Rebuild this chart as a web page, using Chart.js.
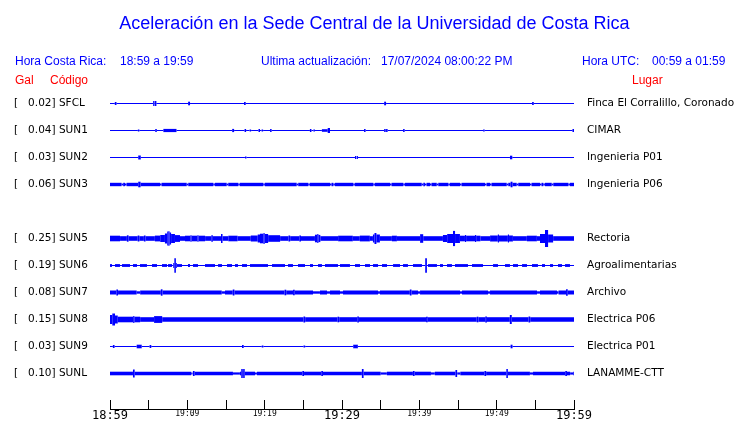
<!DOCTYPE html>
<html>
<head>
<meta charset="utf-8">
<script src="https://cdn.jsdelivr.net/npm/chart.js@4.4.1/dist/chart.umd.min.js"></script>
<style>
  body { margin: 0; background: #fff; }
  #wrap { position: relative; width: 740px; height: 423px; }
  .t { position: absolute; white-space: pre; font-family: 'Liberation Sans', Arial, sans-serif; line-height: 1; }
  .blue { color: #0000ff; font-size: 12px; }
  .red { color: #ff0000; font-size: 12px; }
</style>
</head>
<body>
<div id="wrap">
  <canvas id="sismo"></canvas>
  <div class="t" style="left:0;width:749px;text-align:center;top:14px;font-size:18px;color:#0000ff">Aceleración en la Sede Central de la Universidad de Costa Rica</div>
  <div class="t blue" style="left:15px;top:55px">Hora Costa Rica:</div>
  <div class="t blue" style="left:120px;top:55px">18:59 a 19:59</div>
  <div class="t blue" style="left:261px;top:55px">Ultima actualización:</div>
  <div class="t blue" style="left:381px;top:55px">17/07/2024 08:00:22 PM</div>
  <div class="t blue" style="left:582px;top:55px">Hora UTC:</div>
  <div class="t blue" style="left:652px;top:55px">00:59 a 01:59</div>
  <div class="t red" style="left:15px;top:74px">Gal</div>
  <div class="t red" style="left:50px;top:74px">Código</div>
  <div class="t red" style="left:632px;top:74px">Lugar</div>
</div>
<script>
// time axis (minutes after 18:59)
const tickMinutes = [0, 5, 10, 15, 20, 25, 30, 35, 40, 45, 50, 55, 60];
const labelMinutes = [0, 10, 20, 30, 40, 50, 60];
const timeLabels = ['18:59', '19:09', '19:19', '19:29', '19:39', '19:49', '19:59'];
const bigLabels = ['18:59', '19:29', '19:59'];

// stations
const codes = ['SFCL', 'SUN1', 'SUN2', 'SUN3', 'SUN5', 'SUN6', 'SUN7', 'SUN8', 'SUN9', 'SUNL'];
const places = ['Finca El Corralillo, Coronado', 'CIMAR', 'Ingenieria P01', 'Ingenieria P06', 'Rectoria',
  'Agroalimentarias', 'Archivo', 'Electrica P06', 'Electrica P01', 'LANAMME-CTT'];
const galPeak = [0.02, 0.04, 0.03, 0.06, 0.25, 0.19, 0.08, 0.15, 0.03, 0.10];
const rows = [0, 1, 2, 3, 5, 6, 7, 8, 9, 10];
const noiseLevel = [0.5, 0.5, 0.5, 1.7, 2.3, 0.5, 2, 2.3, 0.5, 1.8];

// envelope events per station: [start min, end min, half amplitude]
const sfclEvents = [[0.62, 0.84, 1.5], [5.58, 5.76, 2.5], [5.82, 6.0, 2.5], [10.1, 10.35, 1.8],
  [17.33, 17.55, 1.5], [35.45, 35.7, 1.8], [54.58, 54.8, 1.5]];
const sun1Events = [[3.6, 3.8, 1], [5.85, 6.05, 1.5], [6.9, 8.6, 1.6], [15.8, 16.05, 1.6], [17.4, 17.6, 1.5],
  [18.05, 18.25, 1], [19.2, 19.4, 1.5], [19.6, 19.8, 1], [20.7, 20.9, 1.5], [25.85, 26.05, 1.5],
  [26.3, 26.5, 1], [27.4, 28.15, 1.3], [28.15, 28.45, 2.5], [32.85, 33.05, 1.5], [35.45, 35.65, 1.5],
  [35.7, 35.9, 1.5], [37.9, 38.1, 1.5], [48.25, 48.45, 1], [59.8, 60, 1.5]];
const sun2Events = [[3.65, 3.98, 2], [17.45, 17.65, 1], [31.68, 31.84, 1.5], [31.9, 32.06, 1.5], [51.72, 52.02, 1.8]];
const sun3Events = [[1.5, 1.7, 0.9], [1.94, 2.14, 0.9], [3.65, 3.95, 2.8], [6.47, 6.67, 0.9], [9.92, 10.12, 0.9],
  [13.36, 13.56, 0.9], [15.09, 15.29, 0.9], [16.59, 16.79, 0.9], [19.82, 20.02, 0.9], [24.14, 24.34, 0.9],
  [25.64, 25.84, 0.9], [28.45, 28.65, 0.9], [28.88, 29.08, 0.9], [31.46, 31.66, 0.9], [34.05, 34.25, 0.9],
  [36.21, 36.41, 0.9], [37.93, 38.13, 0.9], [40.31, 40.51, 0.9], [40.73, 40.93, 0.9], [41.38, 41.58, 0.9],
  [42.25, 42.45, 0.9], [43.75, 43.95, 0.9], [45.26, 45.46, 0.9], [48.49, 48.69, 0.9], [49.14, 49.34, 0.9],
  [51.3, 51.5, 0.9], [51.8, 52.05, 2.8], [52.59, 52.79, 0.9], [54.31, 54.51, 0.9], [55.6, 55.8, 0.9],
  [56.03, 56.23, 0.9], [57.12, 57.32, 0.9], [59.27, 59.47, 0.9]];
const sun5Events = [[0, 1.3, 2.8], [2.18, 2.4, 3.2], [3.58, 3.8, 3], [4.38, 4.6, 3], [5.8, 6.5, 2.9],
  [6.5, 7.1, 3.5], [7.1, 7.4, 5], [7.4, 7.55, 7], [7.55, 7.7, 7.3], [7.7, 7.9, 6], [7.9, 8.4, 4.5],
  [8.4, 9.05, 3.4], [9.7, 10.4, 2.8], [10.4, 10.55, 3.3], [10.55, 11.3, 2.8], [11.3, 11.45, 3.3],
  [11.45, 12.3, 2.8], [13.1, 13.3, 3.2], [14.35, 14.55, 4.5], [15.3, 16.5, 2.8], [18.2, 19.1, 3],
  [19.1, 19.4, 4], [19.4, 19.85, 4.8], [19.85, 20.0, 5.5], [20.0, 20.45, 4.5], [20.45, 22.0, 3.3],
  [23.08, 23.3, 3], [24.48, 24.7, 3], [26.5, 26.8, 3.8], [26.8, 26.95, 4.6], [26.95, 27.2, 3.6],
  [29.5, 31.4, 2.8], [32.3, 33.6, 2.9], [34.0, 34.2, 4], [34.2, 34.45, 5.5], [34.45, 34.9, 4],
  [36.45, 37.1, 2.8], [40.1, 40.5, 4.3], [43.05, 43.6, 3.5], [43.6, 44.35, 4.5], [44.35, 44.62, 7.6],
  [44.62, 45.25, 4.5], [45.25, 45.9, 2.8], [45.9, 46.05, 3.5], [46.05, 47.2, 2.8], [47.2, 47.35, 3.5],
  [47.35, 47.9, 2.8], [49.15, 50.15, 3], [50.15, 50.3, 4], [50.3, 51.45, 3], [51.45, 51.6, 4],
  [51.6, 52.1, 3], [53.9, 55.2, 2.8], [55.6, 56.25, 4.5], [56.25, 56.65, 8.5], [56.65, 57.3, 4]];
const sun6Events = [[0, 0.26, 1.4], [0.65, 1.29, 1.4], [1.55, 2.59, 1.4], [2.97, 3.49, 1.4], [3.88, 4.78, 1.4],
  [5.43, 6.08, 1.4], [6.72, 7.37, 1.4], [7.5, 8.02, 1.4], [8.18, 8.32, 2.5], [8.32, 8.52, 7.2],
  [8.52, 8.64, 2.5], [8.66, 9.31, 1.4], [10.09, 10.34, 1.4], [10.73, 11.38, 1.4], [12.28, 13.58, 1.4],
  [13.97, 14.48, 1.4], [15.13, 15.78, 1.4], [16.16, 16.55, 1.4], [17.07, 17.72, 1.4], [18.1, 20.43, 1.4],
  [20.95, 22.63, 1.4], [23.02, 23.66, 1.4], [24.31, 25.22, 1.4], [25.86, 26.25, 1.4], [26.9, 27.41, 1.4],
  [27.8, 29.48, 1.4], [29.74, 31.03, 1.4], [31.68, 32.33, 1.4], [32.97, 33.62, 1.4], [34.01, 34.66, 1.4],
  [35.17, 35.82, 1.4], [36.6, 37.5, 1.4], [37.89, 38.53, 1.4], [39.18, 40.34, 1.4], [40.76, 40.98, 7.2],
  [41.12, 42.28, 1.4], [42.67, 43.06, 1.4], [43.58, 44.22, 1.4], [44.61, 46.29, 1.4], [46.81, 48.23, 1.4],
  [49.53, 50.17, 1.4], [51.08, 51.72, 1.4], [52.11, 52.76, 1.4], [53.28, 53.92, 1.4], [54.57, 55.34, 1.4],
  [55.86, 56.25, 1.4], [56.9, 57.29, 1.4], [57.93, 58.45, 1.4], [58.84, 59.48, 1.4]];
const sun7Events = [[0.82, 1.04, 3], [3.45, 3.9, 1.2], [6.57, 6.79, 3.2], [14.45, 14.87, 1.2], [15.87, 16.09, 3],
  [22.57, 22.79, 2.8], [23.67, 23.89, 2.8], [26.25, 27.15, 1.2], [28.06, 28.45, 1.2], [29.74, 30.13, 1.2],
  [34.66, 34.91, 1.2], [38.77, 38.99, 3], [39.83, 40.09, 1.2], [45.26, 45.52, 1.2], [48.88, 49.14, 1.2],
  [55.22, 55.6, 1.2], [57.8, 58.0, 1.2], [58.97, 59.19, 3.2]];
const sun8Events = [[0, 0.3, 4.5], [0.3, 0.65, 6], [0.65, 1.0, 4], [1.0, 3.0, 2.8], [3.0, 3.15, 3.5],
  [3.15, 3.9, 2.8], [5.7, 6.75, 3.4], [25.02, 25.24, 3], [29.42, 29.64, 2.8], [31.97, 32.19, 3],
  [40.87, 41.09, 2.8], [47.42, 47.64, 2.8], [48.52, 48.74, 3], [51.7, 51.95, 4.5], [54.12, 54.34, 3]];
const sun9Events = [[0.37, 0.59, 1.5], [3.45, 4.1, 1.8], [5.12, 5.34, 1.5], [17.07, 17.29, 1.5], [19.62, 19.84, 1],
  [25.02, 25.24, 1], [31.45, 32.05, 1.8], [51.8, 52.05, 1.8]];
const sunlEvents = [[2.97, 3.19, 4], [10.5, 10.68, 1.1], [10.72, 10.94, 2.5], [15.9, 16.8, 1.1], [16.97, 17.17, 4.5],
  [17.17, 17.22, 2.5], [17.22, 17.42, 4.5], [18.75, 19.0, 1.1], [24.87, 25.09, 2.5], [27.32, 27.54, 2.5],
  [32.57, 32.79, 4.5], [35.0, 35.8, 1.1], [39.17, 39.39, 2.5], [41.5, 42.0, 1.1], [44.67, 44.89, 3.5],
  [44.9, 45.3, 1.1], [48.42, 48.64, 2.5], [51.25, 51.45, 4.5], [54.3, 54.7, 1.1], [58.87, 59.09, 2.5],
  [59.5, 59.9, 1.1]];
const allEvents = [sfclEvents, sun1Events, sun2Events, sun3Events, sun5Events, sun6Events,
  sun7Events, sun8Events, sun9Events, sunlEvents];

const ROW = 27;          // amplitude units between two traces
const BLUE = '#0000ff';

function traceData(row, base, events) {
  const y = row * ROW;
  const pts = [{ x: 0, y, a: base }];
  events.slice().sort((p, q) => p[0] - q[0]).forEach(([s, e, a]) => {
    pts.push({ x: s, y, a });
    pts.push({ x: e, y, a: base });
  });
  pts.push({ x: 60, y, a: base });
  return pts;
}

const datasets = codes.map((code, i) => {
  const data = traceData(rows[i], noiseLevel[i], allEvents[i]);
  return {
    label: code,
    data,
    borderColor: BLUE,
    borderWidth: 1,
    pointRadius: 0,
    tension: 0,
    segment: {
      // envelope thickness read through the y scale
      borderWidth: ctx => {
        const ys = ctx.chart.scales.y;
        const a = data[ctx.p0DataIndex].a;
        return Math.abs(ys.getPixelForValue(a) - ys.getPixelForValue(0)) * 2;
      }
    }
  };
});

const rowTicks = s => { s.ticks = rows.map(r => ({ value: r * ROW })); };
const rowIndex = v => rows.indexOf(Math.round(v / ROW));
const noPad = s => { s.paddingTop = 0; s.paddingBottom = 0; s.paddingLeft = 0; s.paddingRight = 0; };

new Chart(document.getElementById('sismo'), {
  type: 'line',
  data: { datasets },
  options: {
    responsive: true,
    maintainAspectRatio: false,
    animation: false,
    layout: { padding: { left: 14, right: 0, top: 76, bottom: 0 } },
    plugins: { legend: { display: false }, tooltip: { enabled: false } },
    scales: {
      x: {
        type: 'linear',
        min: 0,
        max: 60,
        afterBuildTicks: s => { s.ticks = tickMinutes.map(v => ({ value: v })); },
        afterFit: s => { s.height = 14; noPad(s); },
        grid: { drawOnChartArea: false, color: '#000', lineWidth: 1, tickLength: -9 },
        border: { color: '#000', width: 1 },
        ticks: {
          autoSkip: false,
          maxRotation: 0,
          padding: 9,
          color: '#000',
          font: ctx => {
            const i = labelMinutes.indexOf(ctx.tick ? ctx.tick.value : -1);
            const big = i >= 0 && bigLabels.includes(timeLabels[i]);
            return { family: 'DejaVu Sans Mono', size: big ? 12 : 8 };
          },
          callback: v => {
            const i = labelMinutes.indexOf(v);
            return i < 0 ? '' : timeLabels[i];
          }
        }
      },
      y: {
        type: 'linear',
        position: 'left',
        reverse: true,
        min: -27.5,
        max: 305.5,
        afterBuildTicks: rowTicks,
        afterFit: s => { s.width = 96; noPad(s); },
        grid: { display: false, drawTicks: false },
        border: { display: false },
        ticks: {
          crossAlign: 'far',
          color: '#000',
          font: { family: 'DejaVu Sans', size: 10.5 },
          callback: v => {
            const i = rowIndex(v);
            return i < 0 ? '' : '[   ' + galPeak[i].toFixed(2) + '] ' + codes[i];
          }
        }
      },
      y2: {
        type: 'linear',
        position: 'right',
        reverse: true,
        min: -27.5,
        max: 305.5,
        afterBuildTicks: rowTicks,
        afterFit: s => { s.width = 166; noPad(s); },
        grid: { display: false, drawTicks: false },
        border: { display: false },
        ticks: {
          crossAlign: 'near',
          padding: 13,
          color: '#000',
          font: { family: 'DejaVu Sans', size: 10.5 },
          callback: v => {
            const i = rowIndex(v);
            return i < 0 ? '' : places[i];
          }
        }
      }
    }
  }
});
</script>
</body>
</html>
